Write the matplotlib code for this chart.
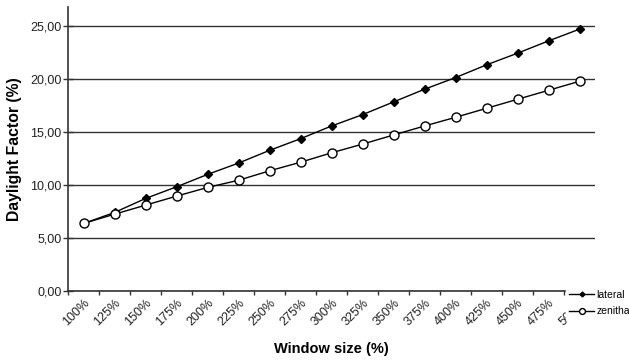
import numpy as np
import matplotlib.pyplot as plt
from matplotlib.ticker import FixedLocator, FuncFormatter

plt.rcParams['font.family'] = ['Liberation Sans', 'DejaVu Sans']

# Data
sizes = ['100%', '125%', '150%', '175%', '200%', '225%', '250%', '275%', '300%',
         '325%', '350%', '375%', '400%', '425%', '450%', '475%', '500%']
lateral = [6.37, 7.41, 8.73, 9.83, 11.0, 12.07, 13.27, 14.37, 15.57,
           16.64, 17.84, 19.04, 20.14, 21.34, 22.44, 23.6, 24.71]
zenithal = [6.37, 7.25, 8.1, 8.95, 9.77, 10.45, 11.34, 12.15, 13.04,
            13.86, 14.72, 15.57, 16.39, 17.24, 18.09, 18.94, 19.79]
yticks = [0, 5, 10, 15, 20, 25]

fig = plt.figure(figsize=(6.29, 3.6), dpi=100)
ax = fig.add_axes([68 / 629, (360 - 291) / 360, (595 - 68) / 629, (291 - 7) / 360])

x = np.arange(len(sizes))
ax.plot(x, lateral, color='black', lw=1, marker='D', ms=3.8,
        mfc='black', mec='black', label='lateral', zorder=3)
ax.plot(x, zenithal, color='black', lw=1, marker='o', ms=6.5,
        mfc='white', mec='black', mew=1, label='zenithal', zorder=4)

ax.set_xlim(-0.5, len(sizes) - 0.5)
ax.set_ylim(0, 26.8)

# y axis
ax.set_yticks(yticks)
ax.yaxis.set_major_formatter(FuncFormatter(lambda v, p: f'{v:.2f}'.replace('.', ',')))
ax.yaxis.grid(True, color='#333333', lw=1)
ax.set_axisbelow(True)

# x axis: tick marks at category edges, labels at centres
ax.xaxis.set_major_locator(FixedLocator(np.arange(len(sizes) + 1) - 0.5))
ax.xaxis.set_major_formatter(FuncFormatter(lambda v, p: ''))
ax.xaxis.set_minor_locator(FixedLocator(x))
ax.set_xticklabels(sizes, minor=True, rotation=45, ha='right', rotation_mode='anchor')
ax.tick_params(axis='x', which='minor', length=0, pad=4, labelsize=9, labelcolor='#222222')
ax.tick_params(axis='x', which='major', length=3, width=1, color='#333333')
ax.tick_params(axis='y', direction='inout', length=7, width=1, color='#333333',
               labelsize=9, labelcolor='#222222', pad=1)

for s in ['top', 'right']:
    ax.spines[s].set_visible(False)
for s in ['left', 'bottom']:
    ax.spines[s].set_color('#333333')
    ax.spines[s].set_linewidth(1.2)

ax.set_ylabel('Daylight Factor (%)', fontsize=11.3, fontweight='bold', labelpad=6)
ax.set_xlabel('Window size (%)', fontsize=10.5, fontweight='bold', labelpad=10)

leg = ax.legend(loc='upper left', bbox_to_anchor=(566 / 629, 1 - 287 / 360),
                bbox_transform=fig.transFigure, frameon=True, fontsize=7.5,
                markerscale=0.65, handlelength=2.4, handletextpad=0.2,
                borderpad=0.3, labelspacing=0.6, borderaxespad=0)
leg.get_frame().set_edgecolor('white')
leg.get_frame().set_facecolor('white')
leg.get_frame().set_alpha(1)
leg.get_frame().set_boxstyle('square', pad=0)
leg.set_zorder(10)

fig.savefig('out.png', dpi=100)
